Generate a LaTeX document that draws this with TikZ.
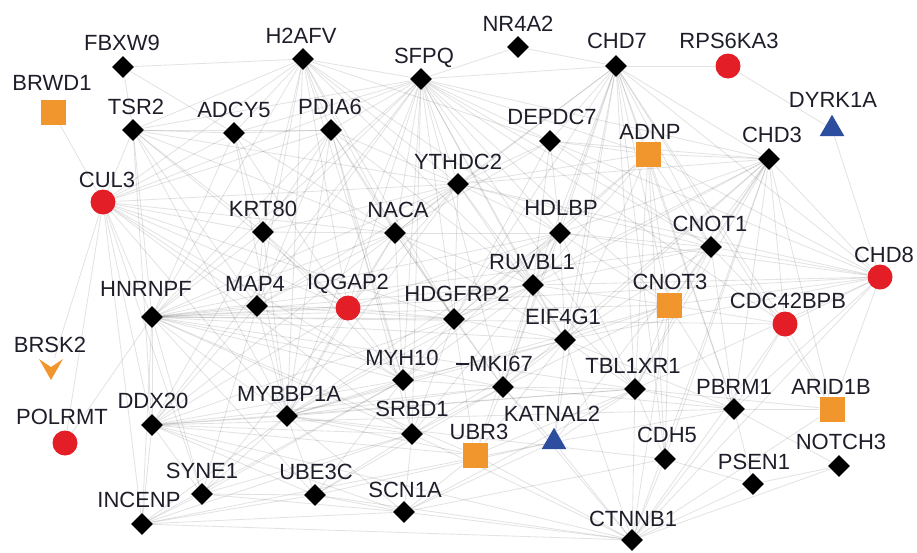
\documentclass[tikz,border=0pt]{standalone}
\usepackage{fontspec}
\setmainfont{Liberation Sans}
\usetikzlibrary{shapes.geometric}

\definecolor{nodered}{HTML}{E41E26}
\definecolor{nodeorange}{HTML}{F0962C}
\definecolor{nodeblue}{HTML}{2D4E9E}
\definecolor{labelink}{HTML}{1E1E2A}

\pgfdeclarelayer{edges}
\pgfsetlayers{edges,main}

\tikzset{
  dia/.style={diamond, fill=black, inner sep=0pt, minimum width=22pt, minimum height=22pt},
  dot/.style={circle, fill=nodered, inner sep=0pt, minimum size=25pt},
  sq/.style={rectangle, fill=nodeorange, inner sep=0pt, minimum size=25pt},
  tri/.style={regular polygon, regular polygon sides=3, fill=nodeblue, inner sep=0pt, minimum size=28.5pt},
  chev/.style={rectangle, inner sep=0pt, minimum size=22pt},
  lab/.style={font=\fontsize{22}{22}\selectfont, text=labelink, inner sep=0pt,
              text height=15.4pt, text depth=0pt, anchor=center},
  link/.style={draw=black, draw opacity=0.11, line width=0.85pt}
}

% marker node + its label: style, name, x, y, text, label x, label y
\newcommand{\netnode}[7]{%
  \node[#1] (#2) at (#3,#4) {};
  \node[lab] (#2-lab) at (#6,#7) {#5};}

\begin{document}
\begin{tikzpicture}[x=1pt, y=-1pt]
\useasboundingbox (0,0) rectangle (917,552);

\netnode{dia}{fbxw9}{123}{67}{FBXW9}{122}{43}
\netnode{dia}{h2afv}{303}{59}{H2AFV}{301}{36}
\netnode{dia}{sfpq}{421}{79}{SFPQ}{424}{56}
\netnode{dia}{nr4a2}{518}{47}{NR4A2}{518}{24}
\netnode{dia}{chd7}{616}{66}{CHD7}{617}{41}
\netnode{dot}{rps6ka3}{728}{66}{RPS6KA3}{729}{41}
\netnode{sq}{brwd1}{53}{112}{BRWD1}{52}{83}
\netnode{dia}{tsr2}{133}{130}{TSR2}{136}{107}
\netnode{dia}{adcy5}{234}{133}{ADCY5}{234}{110}
\netnode{dia}{pdia6}{331}{130}{PDIA6}{330}{107}
\netnode{dia}{depdc7}{550}{141}{DEPDC7}{552}{117}
\netnode{sq}{adnp}{648}{154}{ADNP}{650}{132}
\netnode{dia}{chd3}{769}{159}{CHD3}{772}{135}
\netnode{tri}{dyrk1a}{832}{129}{DYRK1A}{833}{100}
\netnode{dia}{ythdc2}{458}{184}{YTHDC2}{458}{162}
\netnode{dot}{cul3}{103}{202}{CUL3}{107}{180}
\netnode{dia}{krt80}{263}{232}{KRT80}{263}{209}
\netnode{dia}{naca}{395}{233}{NACA}{398}{210}
\netnode{dia}{hdlbp}{560}{233}{HDLBP}{561}{208}
\netnode{dia}{cnot1}{711}{247}{CNOT1}{710}{224}
\netnode{dot}{chd8}{880}{277}{CHD8}{884}{255}
\netnode{dia}{ruvbl1}{533}{285}{RUVBL1}{532}{262}
\netnode{dia}{hnrnpf}{152}{317}{HNRNPF}{146}{289}
\netnode{dia}{map4}{257}{306}{MAP4}{255}{284}
\netnode{dot}{iqgap2}{348}{308}{IQGAP2}{348}{282}
\netnode{dia}{hdgfrp2}{454}{319}{HDGFRP2}{457}{294}
\netnode{sq}{cnot3}{669}{305}{CNOT3}{670}{282}
\netnode{dot}{cdc42bpb}{785}{324}{CDC42BPB}{788}{301}
\netnode{dia}{eif4g1}{565}{340}{EIF4G1}{563}{317}
\netnode{chev}{brsk2}{51}{369}{BRSK2}{50}{345}
\netnode{dia}{myh10}{403}{380}{MYH10}{402}{358}
\netnode{dia}{mki67}{503}{387}{MKI67}{501}{364}
\netnode{dia}{tbl1xr1}{635}{389}{TBL1XR1}{633}{366}
\netnode{dia}{ddx20}{152}{425}{DDX20}{153}{401}
\netnode{dia}{mybbp1a}{287}{416}{MYBBP1A}{289}{394}
\netnode{dia}{srbd1}{412}{434}{SRBD1}{412}{409}
\netnode{sq}{ubr3}{475}{455}{UBR3}{479}{432}
\netnode{tri}{katnal2}{554}{442}{KATNAL2}{552}{414}
\netnode{dia}{pbrm1}{734}{409}{PBRM1}{734}{387}
\netnode{sq}{arid1b}{832}{409}{ARID1B}{831}{387}
\netnode{dot}{polrmt}{65}{443}{POLRMT}{62}{417}
\netnode{dia}{cdh5}{665}{459}{CDH5}{667}{435}
\netnode{dia}{notch3}{839}{466}{NOTCH3}{841}{442}
\netnode{dia}{psen1}{753}{484}{PSEN1}{754}{462}
\netnode{dia}{syne1}{202}{494}{SYNE1}{202}{471}
\netnode{dia}{ube3c}{315}{495}{UBE3C}{316}{472}
\netnode{dia}{scn1a}{404}{512}{SCN1A}{405}{490}
\netnode{dia}{incenp}{142}{524}{INCENP}{139}{500}
\netnode{dia}{ctnnb1}{632}{540}{CTNNB1}{633}{519}

% BRSK2 is drawn as a downward chevron
\fill[nodeorange] ([shift={(-12,-10)}]brsk2.center) -- ([shift={(0,-2)}]brsk2.center)
  -- ([shift={(12,-10)}]brsk2.center) -- ([shift={(0,11)}]brsk2.center) -- cycle;

% short stroke in front of the MKI67 label
\draw[labelink, line width=1.3pt] ([xshift=-13pt]mki67-lab.west) -- (mki67-lab.west);

% interaction edges, kept underneath the markers
\begin{pgfonlayer}{edges}
\foreach \s/\ts in {
  sfpq/{h2afv,nr4a2,chd7,pdia6,ythdc2,naca,hdlbp,depdc7,adnp,chd3,krt80,map4,iqgap2,hdgfrp2,ruvbl1,hnrnpf,cul3,tsr2,adcy5,mybbp1a,myh10,eif4g1,cnot1,cnot3,tbl1xr1,srbd1,ddx20,mki67,cdc42bpb},
  chd7/{nr4a2,depdc7,adnp,chd3,ythdc2,hdlbp,cnot1,cnot3,ruvbl1,eif4g1,tbl1xr1,chd8,pbrm1,arid1b,cdc42bpb,hdgfrp2,mki67,naca,cdh5,katnal2,rps6ka3},
  h2afv/{pdia6,adcy5,tsr2,krt80,naca,map4,iqgap2,ythdc2,hnrnpf,cul3,mybbp1a,hdgfrp2,hdlbp,depdc7,myh10,ruvbl1,fbxw9},
  cul3/{brwd1,tsr2,brsk2,polrmt,hnrnpf,ddx20,incenp,krt80,map4,iqgap2,naca,mybbp1a,syne1,pdia6,adcy5,hdgfrp2,ythdc2,myh10,srbd1},
  fbxw9/{tsr2,adcy5},
  tsr2/{adcy5,krt80,hnrnpf,map4,naca,mybbp1a,pdia6,iqgap2,ddx20,ythdc2},
  adcy5/{pdia6,krt80,hnrnpf,mybbp1a,naca,iqgap2},
  pdia6/{naca,krt80,hdgfrp2,map4,ythdc2,hnrnpf,mybbp1a,myh10,ruvbl1,srbd1},
  hnrnpf/{map4,iqgap2,hdgfrp2,krt80,naca,ythdc2,hdlbp,ruvbl1,eif4g1,cnot3,myh10,mki67,mybbp1a,ddx20,syne1,incenp,ube3c,srbd1,cnot1,tbl1xr1,chd8,cdc42bpb,polrmt,ubr3},
  ddx20/{mybbp1a,myh10,srbd1,ubr3,syne1,incenp,ube3c,map4,iqgap2,hdgfrp2,tbl1xr1,pbrm1,scn1a,ctnnb1,naca,krt80,mki67},
  mybbp1a/{map4,iqgap2,hdgfrp2,myh10,srbd1,ube3c,syne1,scn1a,mki67,eif4g1,ruvbl1,hdlbp,naca,krt80,ythdc2,tbl1xr1,ubr3,cnot3,incenp,cdh5},
  incenp/{syne1,scn1a,ctnnb1,ube3c,myh10,srbd1,katnal2},
  syne1/{ube3c,map4,scn1a,srbd1,myh10,iqgap2},
  ube3c/{srbd1,scn1a,myh10,ctnnb1,mki67,katnal2},
  scn1a/{ctnnb1,katnal2,ubr3,tbl1xr1,cdh5,srbd1},
  ctnnb1/{katnal2,cdh5,psen1,notch3,pbrm1,tbl1xr1,arid1b,chd8,ubr3,mki67,eif4g1,cnot3,chd3,cdc42bpb,srbd1},
  psen1/{notch3,cdh5,pbrm1},
  notch3/{pbrm1},
  arid1b/{pbrm1,chd8,cdc42bpb,chd3,tbl1xr1},
  pbrm1/{chd8,cdc42bpb,chd3,cnot3,tbl1xr1,cnot1,eif4g1,mki67,katnal2,adnp},
  chd8/{chd3,cnot1,adnp,cnot3,cdc42bpb,tbl1xr1,dyrk1a,hdlbp,ruvbl1,eif4g1,depdc7,ythdc2},
  chd3/{adnp,cnot1,cnot3,cdc42bpb,tbl1xr1,hdlbp,ruvbl1,eif4g1,depdc7,ythdc2,hdgfrp2,mki67,cdh5,katnal2},
  dyrk1a/{rps6ka3},
  cnot1/{cnot3,adnp,hdlbp,ruvbl1,eif4g1,tbl1xr1,cdc42bpb,depdc7,ythdc2},
  cnot3/{adnp,hdlbp,ruvbl1,eif4g1,tbl1xr1,cdc42bpb,mki67,cdh5},
  adnp/{depdc7,hdlbp,ruvbl1,eif4g1,tbl1xr1,cdh5,ythdc2,hdgfrp2},
  depdc7/{ythdc2,hdlbp,ruvbl1,naca,hdgfrp2},
  ythdc2/{naca,hdlbp,ruvbl1,hdgfrp2,iqgap2,map4,krt80,eif4g1},
  naca/{krt80,hdlbp,ruvbl1,hdgfrp2,iqgap2,map4,myh10,eif4g1,mki67},
  hdlbp/{ruvbl1,hdgfrp2,eif4g1,mki67,tbl1xr1,iqgap2,myh10},
  ruvbl1/{hdgfrp2,eif4g1,mki67,tbl1xr1,myh10,iqgap2,srbd1,ubr3},
  eif4g1/{hdgfrp2,mki67,tbl1xr1,myh10,ubr3,katnal2,srbd1},
  hdgfrp2/{iqgap2,map4,myh10,mki67,srbd1,ubr3},
  myh10/{mki67,srbd1,iqgap2,map4,krt80},
  mki67/{tbl1xr1,srbd1,ubr3,katnal2},
  tbl1xr1/{katnal2,cdh5,ubr3},
  krt80/{map4,iqgap2},
  map4/{iqgap2}}
  {\foreach \t in \ts {\draw[link] (\s) -- (\t);}}
\end{pgfonlayer}
\end{tikzpicture}
\end{document}
